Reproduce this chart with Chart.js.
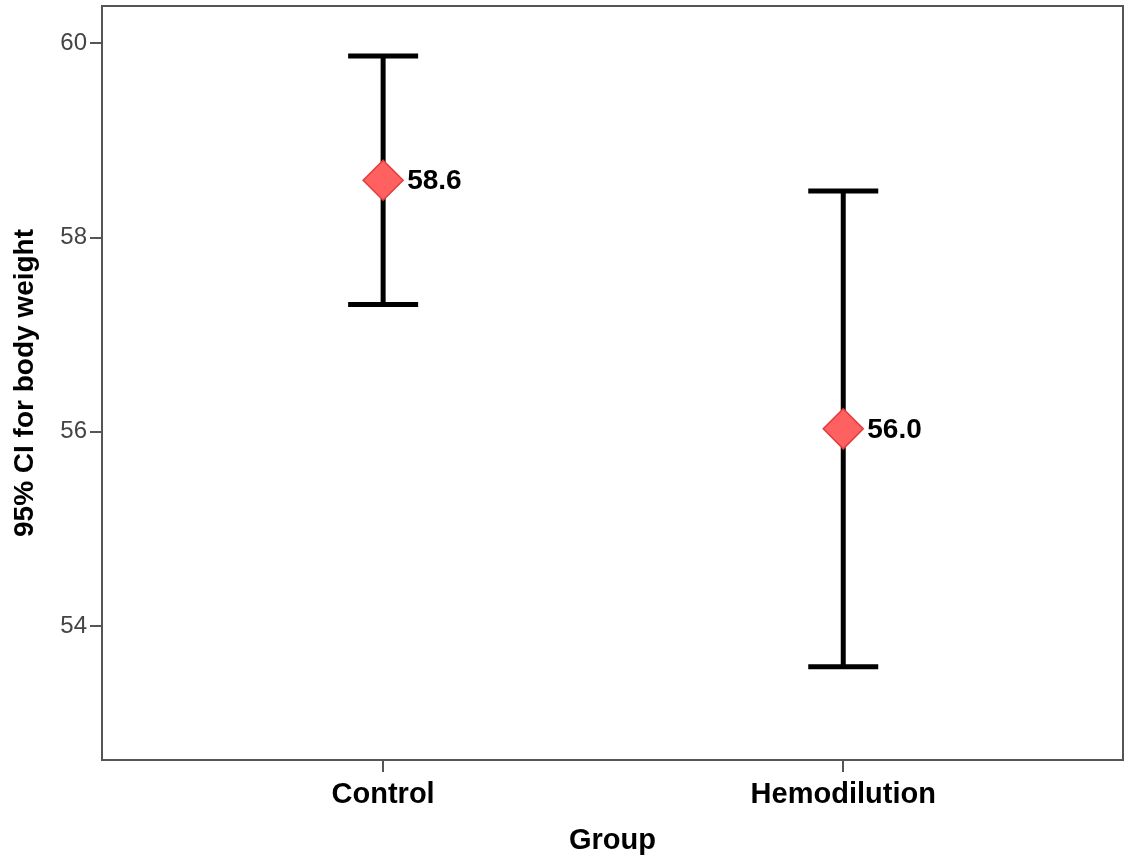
<!DOCTYPE html>
<html>
<head>
<meta charset="utf-8">
<title>95% CI for body weight</title>
<script src="https://cdn.jsdelivr.net/npm/chart.js@4/dist/chart.umd.min.js"></script>
<style>
html,body{margin:0;padding:0;background:#fff;}
#wrap{width:1128px;height:860px;}
</style>
</head>
<body>
<div id="wrap"><canvas id="ciChart" width="1128" height="860"></canvas></div>
<script>

/* DATA */

const groups = ["Control", "Hemodilution"];
const means = [58.59, 56.03];
const lower = [57.31, 53.58];
const upper = [59.87, 58.48];
const yTicks = [54, 56, 58, 60];

const FONT = "'Liberation Sans', Arial, sans-serif";

/* FRAME ROUND THE PLOT AREA */

const framePlugin = {
id: "frame",
afterDraw(chart){
const a = chart.chartArea;
const ctx = chart.ctx;
ctx.save();
ctx.strokeStyle = "#555";
ctx.lineWidth = 2;
ctx.strokeRect(a.left, a.top, a.right - a.left, a.bottom - a.top);
ctx.restore();
}
};

/* MEAN LABELS NEXT TO THE DIAMONDS */

const meanLabels = {
id: "meanLabels",
afterDatasetsDraw(chart){
const meta = chart.getDatasetMeta(0);
const ctx = chart.ctx;
ctx.save();
ctx.font = "bold 28px " + FONT;
ctx.fillStyle = "#000";
ctx.textAlign = "left";
ctx.textBaseline = "middle";
meta.data.forEach((el, i) => {
ctx.fillText(means[i].toFixed(1), el.x + 24, el.y + 1);
});
ctx.restore();
}
};

/* DATASETS */

const meanSet = {
type: "scatter",
data: groups.map((g, i) => ({x: i + 1, y: means[i]})),
pointStyle: "rectRot",
pointRadius: 20,
backgroundColor: "#ff6161",
borderColor: "#e53a3a",
borderWidth: 1.5
};

const whiskerSets = groups.map((g, i) => ({
type: "line",
data: [{x: i + 1, y: lower[i]}, {x: i + 1, y: upper[i]}],
borderColor: "#000",
borderWidth: 5,
pointStyle: "line",
pointRadius: 35,
pointBorderWidth: 5,
pointBorderColor: "#000",
fill: false
}));

/* CHART */

new Chart(document.getElementById("ciChart"), {
type: "scatter",
data: {
datasets: [meanSet, ...whiskerSets]
},
options: {
responsive: false,
animation: false,
events: [],
layout: {
autoPadding: false,
padding: {top: 6, right: 5, left: 0, bottom: 0}
},
plugins: {
legend: {display: false},
tooltip: {enabled: false}
},
scales: {
x: {
type: "linear",
min: 0.389,
max: 2.608,
afterBuildTicks(scale){
scale.ticks = groups.map((g, i) => ({value: i + 1}));
},
afterFit(scale){
scale.height = 100;
scale.paddingLeft = 0;
scale.paddingRight = 0;
},
ticks: {
callback: (v) => groups[v - 1],
font: {family: FONT, size: 29, weight: "bold"},
color: "#000",
padding: 6,
maxRotation: 0
},
grid: {
drawOnChartArea: false,
drawTicks: true,
tickLength: 12,
color: "#555",
lineWidth: 2
},
border: {display: false},
title: {
display: true,
text: "Group",
font: {family: FONT, size: 29, weight: "bold"},
color: "#000",
padding: {top: 0, bottom: 2}
}
},
y: {
min: 52.62,
max: 60.384,
afterBuildTicks(scale){
scale.ticks = yTicks.map(v => ({value: v}));
},
afterFit(scale){
scale.width = 102;
scale.paddingTop = 0;
scale.paddingBottom = 0;
},
ticks: {
font: {family: FONT, size: 24},
color: "#444",
padding: 3
},
grid: {
drawOnChartArea: false,
drawTicks: true,
tickLength: 12,
color: "#555",
lineWidth: 2
},
border: {display: false},
title: {
display: true,
text: "95% CI for body weight",
font: {family: FONT, size: 28, weight: "bold"},
color: "#000",
padding: {top: 8, bottom: 0}
}
}
}
},
plugins: [framePlugin, meanLabels]
});

</script>
</body>
</html>
